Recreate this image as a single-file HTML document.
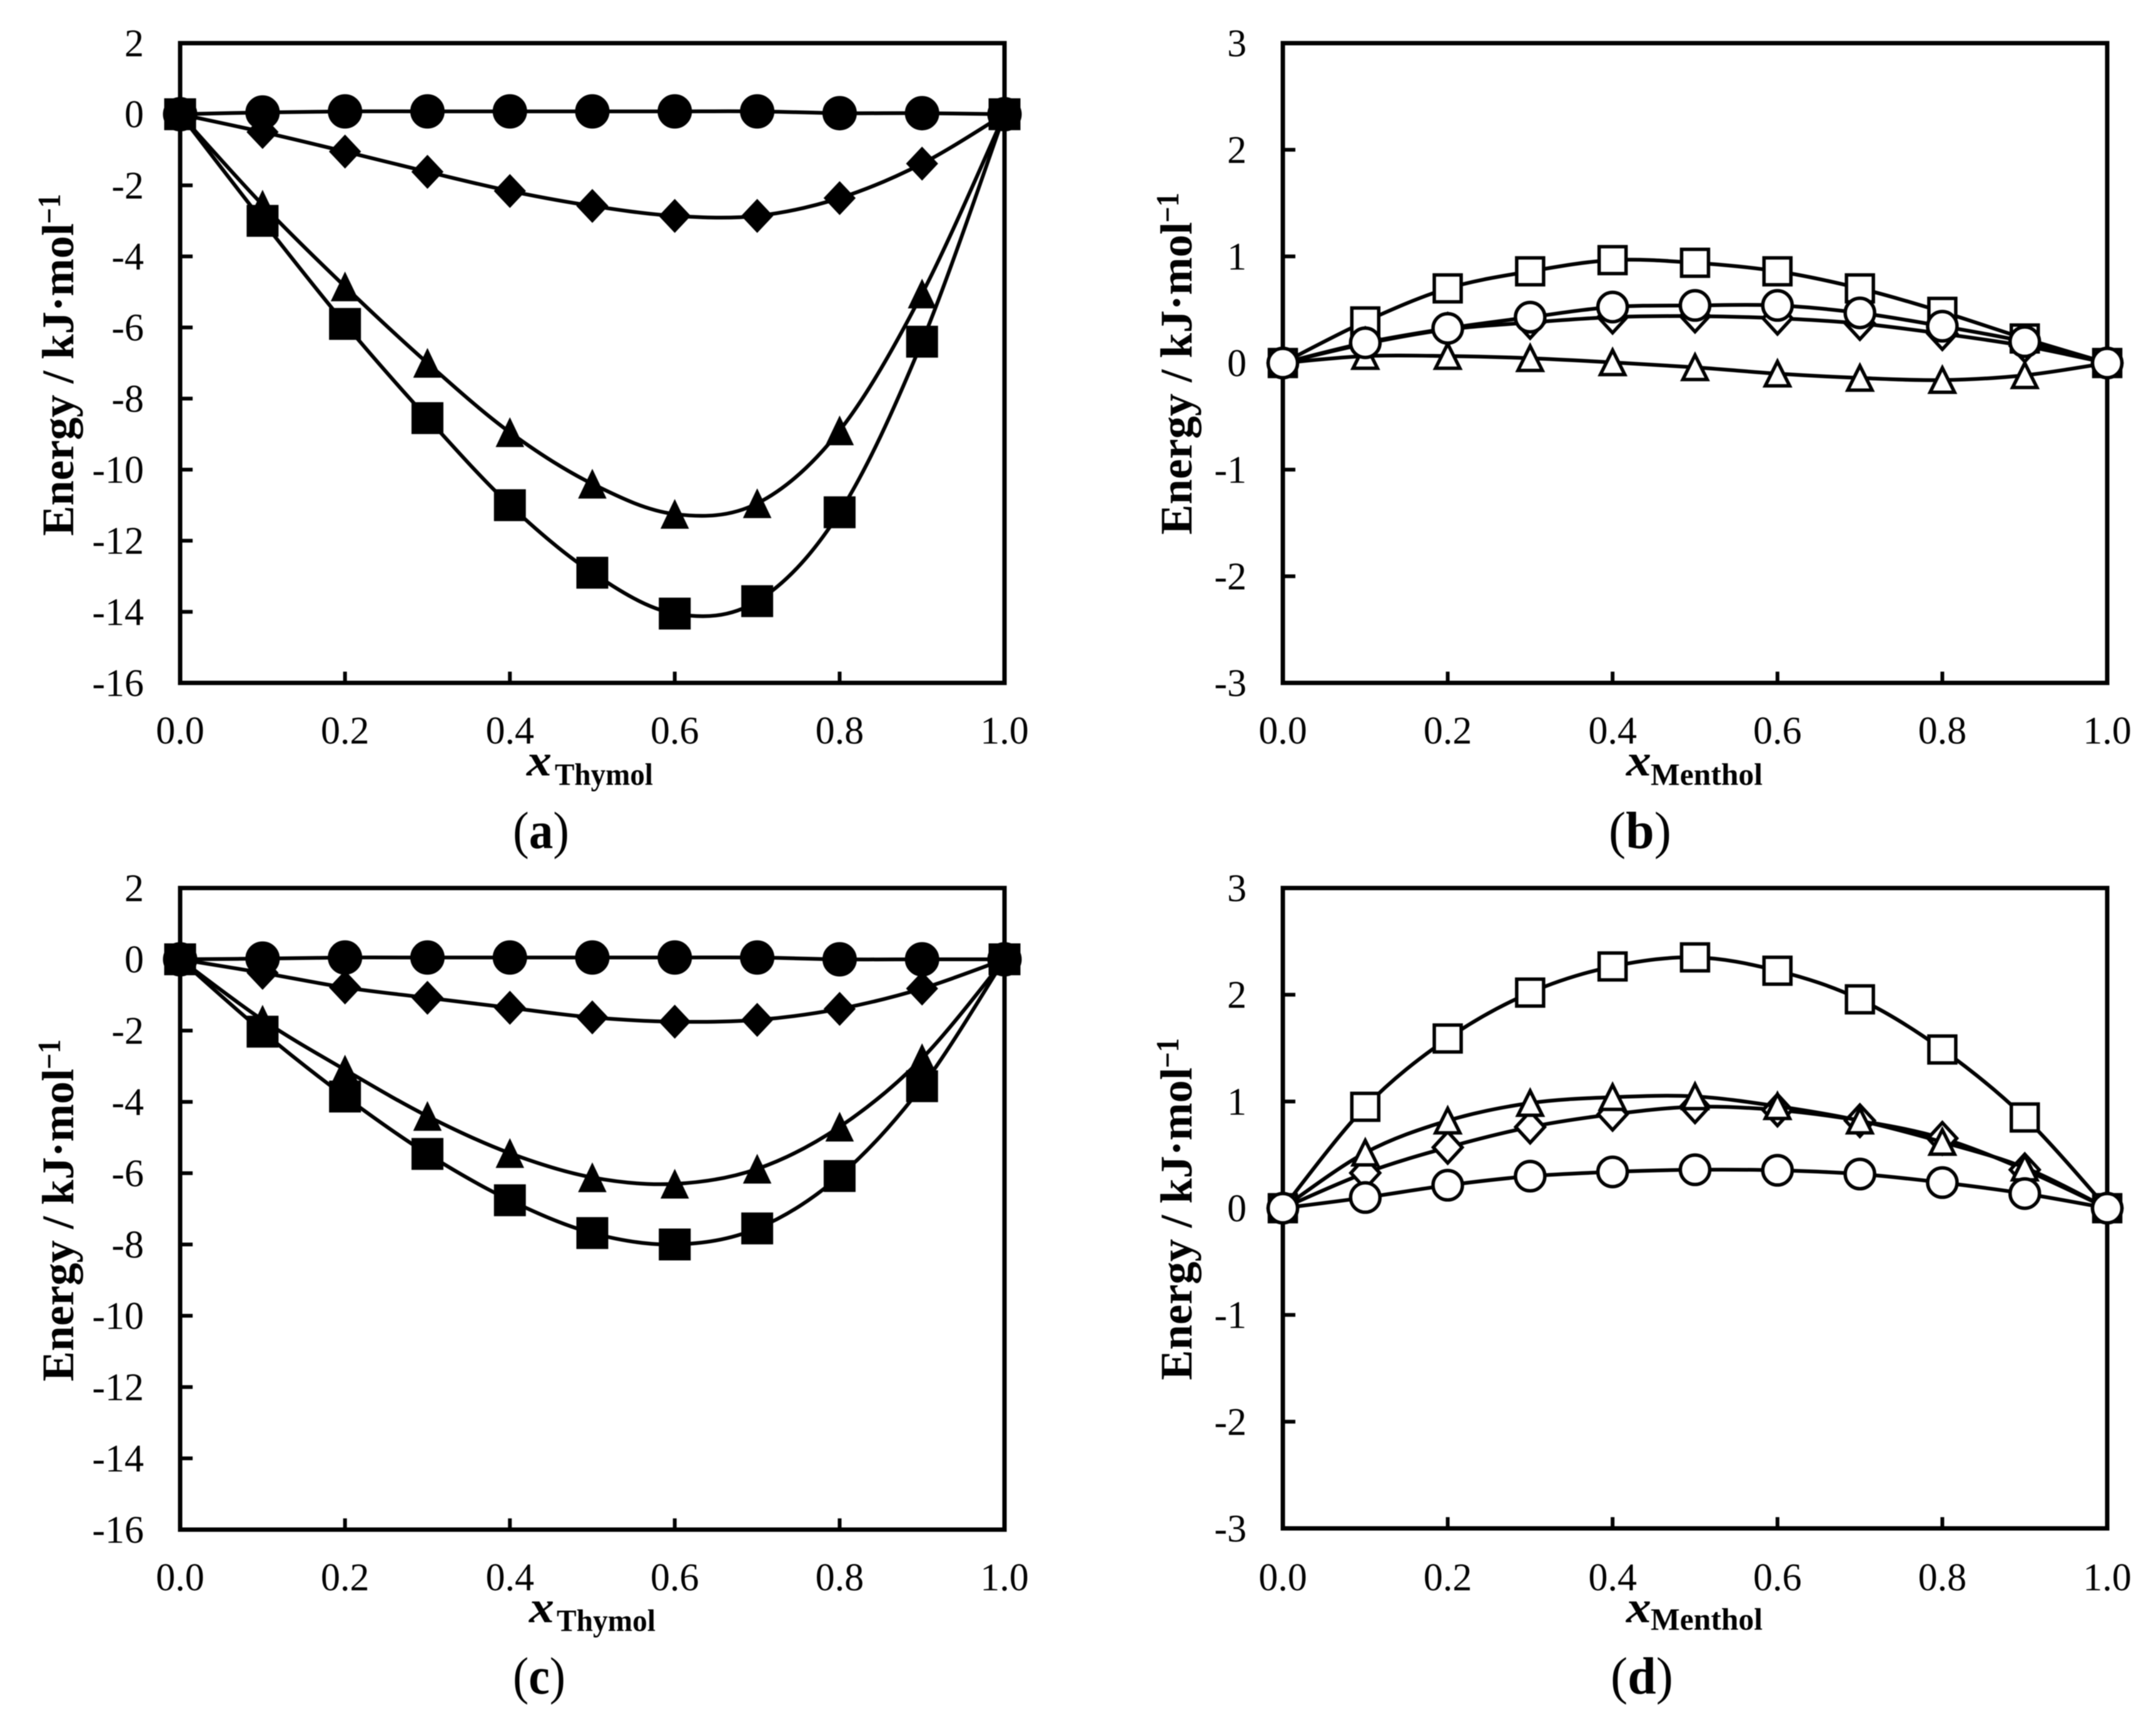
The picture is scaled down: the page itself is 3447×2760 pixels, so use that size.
<!DOCTYPE html>
<html lang="en">
<head>
<meta charset="utf-8">
<title>Energy versus mole fraction, four panels</title>
<style>
html,body{margin:0;padding:0;background:#fff;}
svg{display:block;filter:blur(0.9px);}
text{font-family:"Liberation Serif",serif;fill:#000;}
.tick{font-size:62px;}
.ytitle{font-size:72px;font-weight:bold;}
.ysup{font-size:52px;font-weight:bold;}
.xvar{font-size:72px;font-weight:bold;font-style:italic;}
.xsub{font-size:50px;font-weight:bold;}
.cap{font-size:84px;}
.capb{font-weight:bold;}
</style>
</head>
<body>
<svg id="figure" xmlns="http://www.w3.org/2000/svg" width="3447" height="2760" viewBox="0 0 3447 2760">
  <rect x="0" y="0" width="3447" height="2760" fill="#fff"/>

  <g id="panel-a"></g>
  <g id="panel-b"></g>
  <g id="panel-c"></g>
  <g id="panel-d"></g>

  <g transform="translate(117,857) rotate(-90)">
    <text class="ytitle" x="0" y="0" textLength="500" lengthAdjust="spacingAndGlyphs">Energy / kJ·mol</text>
    <text class="ysup" x="499" y="-21" textLength="48" lengthAdjust="spacingAndGlyphs">−1</text>
  </g>
  <g transform="translate(1905,855) rotate(-90)">
    <text class="ytitle" x="0" y="0" textLength="500" lengthAdjust="spacingAndGlyphs">Energy / kJ·mol</text>
    <text class="ysup" x="499" y="-21" textLength="48" lengthAdjust="spacingAndGlyphs">−1</text>
  </g>
  <g transform="translate(117,2209) rotate(-90)">
    <text class="ytitle" x="0" y="0" textLength="500" lengthAdjust="spacingAndGlyphs">Energy / kJ·mol</text>
    <text class="ysup" x="499" y="-21" textLength="48" lengthAdjust="spacingAndGlyphs">−1</text>
  </g>
  <g transform="translate(1905,2207) rotate(-90)">
    <text class="ytitle" x="0" y="0" textLength="500" lengthAdjust="spacingAndGlyphs">Energy / kJ·mol</text>
    <text class="ysup" x="499" y="-21" textLength="48" lengthAdjust="spacingAndGlyphs">−1</text>
  </g>

  <g>
    <text class="xvar" x="842" y="1240" textLength="40" lengthAdjust="spacingAndGlyphs">x</text>
    <text class="xsub" x="887" y="1255" textLength="157" lengthAdjust="spacingAndGlyphs">Thymol</text>
  </g>
  <g>
    <text class="xvar" x="2600" y="1240" textLength="40" lengthAdjust="spacingAndGlyphs">x</text>
    <text class="xsub" x="2639" y="1255" textLength="179" lengthAdjust="spacingAndGlyphs">Menthol</text>
  </g>
  <g>
    <text class="xvar" x="846" y="2594" textLength="40" lengthAdjust="spacingAndGlyphs">x</text>
    <text class="xsub" x="890" y="2608" textLength="158" lengthAdjust="spacingAndGlyphs">Thymol</text>
  </g>
  <g>
    <text class="xvar" x="2600" y="2594" textLength="40" lengthAdjust="spacingAndGlyphs">x</text>
    <text class="xsub" x="2639" y="2606" textLength="179" lengthAdjust="spacingAndGlyphs">Menthol</text>
  </g>

  <text class="cap" x="865" y="1356" text-anchor="middle" textLength="90" lengthAdjust="spacingAndGlyphs">(<tspan class="capb">a</tspan>)</text>
  <text class="cap" x="2622" y="1356" text-anchor="middle" textLength="100" lengthAdjust="spacingAndGlyphs">(<tspan class="capb">b</tspan>)</text>
  <text class="cap" x="862" y="2708" text-anchor="middle" textLength="84" lengthAdjust="spacingAndGlyphs">(<tspan class="capb">c</tspan>)</text>
  <text class="cap" x="2625" y="2708" text-anchor="middle" textLength="100" lengthAdjust="spacingAndGlyphs">(<tspan class="capb">d</tspan>)</text>
</svg>

<script>
// Shared axis data
const xCategories = [0, 0.1, 0.2, 0.3, 0.4, 0.5, 0.6, 0.7, 0.8, 0.9, 1];
const xTickValues = [0, 0.2, 0.4, 0.6, 0.8, 1];
const xTickLabels = ["0.0", "0.2", "0.4", "0.6", "0.8", "1.0"];
const thymolYTicks = [2, 0, -2, -4, -6, -8, -10, -12, -14, -16];
const mentholYTicks = [3, 2, 1, 0, -1, -2, -3];

// Panel (a)
const aSquare = [0, -3.0, -5.9, -8.55, -11.0, -12.9, -14.05, -13.7, -11.2, -6.4, 0];
const aDiamond = [0, -0.5, -1.05, -1.62, -2.16, -2.58, -2.86, -2.86, -2.36, -1.39, 0];
const aTriangle = [0, -2.55, -4.85, -7.0, -8.95, -10.4, -11.25, -10.95, -8.9, -5.05, 0];
const aCircle = [0, 0.05, 0.08, 0.08, 0.08, 0.08, 0.08, 0.08, 0.03, 0.03, 0];

// Panel (b)
const bSquare = [0, 0.39, 0.70, 0.86, 0.965, 0.94, 0.86, 0.70, 0.48, 0.23, 0];
const bDiamond = [0, 0.18, 0.315, 0.38, 0.43, 0.44, 0.42, 0.37, 0.275, 0.16, 0];
const bTriangle = [0, 0.065, 0.065, 0.045, 0.006, -0.04, -0.10, -0.14, -0.16, -0.115, 0];
const bCircle = [0, 0.19, 0.325, 0.43, 0.525, 0.54, 0.54, 0.47, 0.345, 0.2, 0];

// Panel (c)
const cSquare = [0, -2.03, -3.85, -5.46, -6.76, -7.68, -8.0, -7.55, -6.08, -3.56, 0];
const cDiamond = [0, -0.38, -0.79, -1.08, -1.36, -1.63, -1.75, -1.7, -1.39, -0.82, 0];
const cTriangle = [0, -1.7, -3.1, -4.4, -5.44, -6.12, -6.3, -5.88, -4.7, -2.78, 0];
const cCircle = [0, 0.02, 0.05, 0.05, 0.05, 0.05, 0.05, 0.05, 0, 0, 0];

// Panel (d)
const dSquare = [0, 0.95, 1.59, 2.02, 2.265, 2.35, 2.225, 1.957, 1.487, 0.85, 0];
const dDiamond = [0, 0.33, 0.57, 0.76, 0.88, 0.95, 0.92, 0.82, 0.655, 0.36, 0];
const dTriangle = [0, 0.52, 0.82, 0.985, 1.04, 1.047, 0.955, 0.82, 0.62, 0.38, 0];
const dCircle = [0, 0.10, 0.215, 0.30, 0.34, 0.36, 0.355, 0.32, 0.24, 0.137, 0];

const SVG_NS = "http://www.w3.org/2000/svg";

function make(tag, attrs, parent) {
  const el = document.createElementNS(SVG_NS, tag);
  for (const k in attrs) el.setAttribute(k, attrs[k]);
  parent.appendChild(el);
  return el;
}

function smoothPath(pts) {
  let d = "M" + pts[0][0] + " " + pts[0][1];
  for (let i = 0; i < pts.length - 1; i++) {
    const p0 = pts[Math.max(i - 1, 0)];
    const p1 = pts[i];
    const p2 = pts[i + 1];
    const p3 = pts[Math.min(i + 2, pts.length - 1)];
    const c1x = p1[0] + (p2[0] - p0[0]) / 6;
    const c1y = p1[1] + (p2[1] - p0[1]) / 6;
    const c2x = p2[0] - (p3[0] - p1[0]) / 6;
    const c2y = p2[1] - (p3[1] - p1[1]) / 6;
    d += " C" + c1x + " " + c1y + " " + c2x + " " + c2y + " " + p2[0] + " " + p2[1];
  }
  return d;
}

function drawMarker(shape, cx, cy, filled, parent) {
  const fill = filled ? "#000" : "#fff";
  const attrs = {fill: fill, stroke: "#000", "stroke-width": filled ? 1 : 5.5, "stroke-linejoin": "miter"};
  let el;
  if (shape === "square") {
    const h = filled ? 25 : 21.5;
    attrs.x = cx - h; attrs.y = cy - h; attrs.width = 2 * h; attrs.height = 2 * h;
    el = make("rect", attrs, parent);
  } else if (shape === "circle") {
    attrs.cx = cx; attrs.cy = cy; attrs.r = filled ? 27 : 23.5;
    el = make("circle", attrs, parent);
  } else if (shape === "diamond") {
    const w = filled ? 25 : 23;
    const v = filled ? 26.5 : 25;
    attrs.points = [[cx, cy - v], [cx + w, cy], [cx, cy + v], [cx - w, cy]].join(" ");
    el = make("polygon", attrs, parent);
  } else {
    const w = filled ? 22 : 19.5;
    const v = filled ? 23 : 19.5;
    attrs.points = [[cx, cy - v], [cx + w, cy + v], [cx - w, cy + v]].join(" ");
    el = make("polygon", attrs, parent);
  }
  return el;
}

function drawPanel(cfg) {
  const root = document.getElementById(cfg.id);
  const yMax = cfg.yTicks[0];
  const yMin = cfg.yTicks[cfg.yTicks.length - 1];
  const xScale = v => cfg.left + v * (cfg.right - cfg.left);
  const yScale = v => cfg.top + (yMax - v) / (yMax - yMin) * (cfg.bottom - cfg.top);

  const frame = make("rect", {x: cfg.left, y: cfg.top, width: cfg.right - cfg.left, height: cfg.bottom - cfg.top, fill: "none", stroke: "#000", "stroke-width": 7}, root);
  
  

  cfg.yTicks.forEach(v => {
    const y = yScale(v);
    const tick = make("line", {x1: cfg.left, x2: cfg.left + 20, y1: y, y2: y, stroke: "#000", "stroke-width": 6}, root);
    
    
    const label = make("text", {class: "tick", x: cfg.left - 58, y: y + 21, "text-anchor": "end"}, root);
    label.textContent = String(v);
    
    
  });

  xTickValues.forEach((v, i) => {
    const x = xScale(v);
    const tick = make("line", {x1: x, x2: x, y1: cfg.bottom, y2: cfg.bottom - 18, stroke: "#000", "stroke-width": 6}, root);
    
    
    const label = make("text", {class: "tick", x: x, y: cfg.labelY, "text-anchor": "middle"}, root);
    label.textContent = xTickLabels[i];
    
    
  });

  cfg.series.forEach(s => {
    const g = make("g", {}, root);
    
    
    const pts = s.values.map((v, i) => [xScale(xCategories[i]), yScale(v)]);
    const line = make("path", {d: smoothPath(pts), fill: "none", stroke: "#000", "stroke-width": 6}, g);
    
    
    pts.forEach(p => {
      const m = drawMarker(s.shape, p[0], p[1], cfg.filled, g);
      
      
    });
  });
}

drawPanel({id: "panel-a", left: 288, right: 1606, top: 69, bottom: 1092, labelY: 1189, yTicks: thymolYTicks, filled: true,
  series: [{shape: "circle", values: aCircle}, {shape: "diamond", values: aDiamond}, {shape: "triangle", values: aTriangle}, {shape: "square", values: aSquare}]});
drawPanel({id: "panel-b", left: 2051, right: 3369, top: 69, bottom: 1092, labelY: 1189, yTicks: mentholYTicks, filled: false,
  series: [{shape: "square", values: bSquare}, {shape: "diamond", values: bDiamond}, {shape: "triangle", values: bTriangle}, {shape: "circle", values: bCircle}]});
drawPanel({id: "panel-c", left: 288, right: 1606, top: 1420, bottom: 2446, labelY: 2543, yTicks: thymolYTicks, filled: true,
  series: [{shape: "circle", values: cCircle}, {shape: "diamond", values: cDiamond}, {shape: "triangle", values: cTriangle}, {shape: "square", values: cSquare}]});
drawPanel({id: "panel-d", left: 2051, right: 3369, top: 1420, bottom: 2444, labelY: 2543, yTicks: mentholYTicks, filled: false,
  series: [{shape: "square", values: dSquare}, {shape: "diamond", values: dDiamond}, {shape: "triangle", values: dTriangle}, {shape: "circle", values: dCircle}]});
</script>
</body>
</html>
